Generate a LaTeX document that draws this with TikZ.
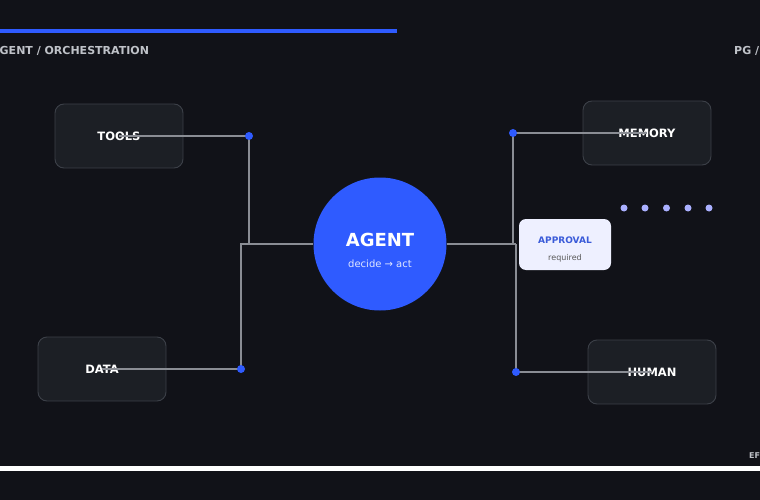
\documentclass[tikz,border=0pt]{standalone}
\usepackage{fontspec}
\setmainfont{DejaVu Sans}
\definecolor{bg}{HTML}{111218}
\definecolor{boxfill}{HTML}{1C1F25}
\definecolor{boxline}{HTML}{3C4048}
\definecolor{wire}{HTML}{8A8D94}
\definecolor{accent}{HTML}{2F5BFF}
\definecolor{headtxt}{HTML}{BFC2C8}
\definecolor{apfill}{HTML}{EEF0FF}
\definecolor{aptxt}{HTML}{3A5BD9}
\definecolor{dotc}{HTML}{AAB0FF}
\tikzset{
  card/.style={draw=boxline, line width=0.9pt, fill=boxfill, rounded corners=9pt, minimum width=128pt, minimum height=64pt, inner sep=0pt},
  cardtxt/.style={text=white, font=\bfseries\fontsize{11.5}{14}\selectfont, inner sep=0pt},
  wireline/.style={draw=wire, line width=1.4pt},
  jdot/.style={circle, fill=accent, minimum size=8pt, inner sep=0pt},
  pdot/.style={circle, fill=dotc, minimum size=7pt, inner sep=0pt},
  headline/.style={text=headtxt, font=\bfseries\fontsize{11}{13}\selectfont, inner sep=0pt}
}
\begin{document}
\begin{tikzpicture}[x=1pt,y=-1pt]
\fill[bg] (0,0) rectangle (760,500);
\useasboundingbox (0,0) rectangle (760,500);
% top bar and bottom bar
\fill[accent] (0,29) rectangle (397,33.5);
\fill[white] (0,466) rectangle (760,470.5);
% header texts
\node[headline, anchor=west] (head) at (-9,50.5) {AGENT / ORCHESTRATION};
\node[headline, anchor=west] (pg) at (734,50.5) {PG /};
\node[headline, anchor=west, font=\bfseries\fontsize{8}{10}\selectfont] (ef) at (749,456) {EF};
% cards
\node[card] (tools) at (119,136) {};
\node[card] (data) at (102,369) {};
\node[card] (memory) at (647,133) {};
\node[card] (human) at (652,372) {};
\node[cardtxt] (toolsT) at (tools.center) {TOOLS};
\node[cardtxt] (dataT) at (data.center) {DATA};
\node[cardtxt] (memoryT) at (memory.center) {MEMORY};
\node[cardtxt] (humanT) at (human.center) {HUMAN};
% junction dots (coordinates)
\coordinate (jt) at (249,136);
\coordinate (jd) at (241,369);
\coordinate (jm) at (513,133);
\coordinate (jh) at (516,372);
\coordinate (jl) at (241,244);
\coordinate (jlt) at (249,244);
\coordinate (jr) at (513,244);
\coordinate (jrh) at (516,244);
% agent
\node[circle, fill=accent, minimum size=133pt, inner sep=0pt] (agent) at (380,244) {};
\node[text=white, font=\bfseries\fontsize{18}{20}\selectfont, inner sep=0pt] (agentT) at (380,240) {AGENT};
\node[text=white!85!accent, font=\fontsize{10}{12}\selectfont, inner sep=0pt] (agentS) at (380,264) {decide → act};
% wires
\draw[wireline] (toolsT.center) -- (jt) -- (jlt);
\draw[wireline] (dataT.center) -- (jd) -- (jl) -- (agent.west);
\draw[wireline] (memoryT.center) -- (jm) -- (jr);
\draw[wireline] (humanT.center) -- (jh) -- (jrh);
\draw[wireline] (agent.east) -- (jrh);
% dots
\node[jdot] (dt) at (jt) {};
\node[jdot] (dd) at (jd) {};
\node[jdot] (dm) at (jm) {};
\node[jdot] (dh) at (jh) {};
% approval
\node[fill=apfill, rounded corners=7pt, minimum width=92pt, minimum height=51pt, inner sep=0pt] (appr) at (565,244.5) {};
\node[text=aptxt, font=\bfseries\fontsize{9}{11}\selectfont, inner sep=0pt] (apprT) at (565,240) {APPROVAL};
\node[text=black!65, font=\fontsize{8}{10}\selectfont, inner sep=0pt] (apprS) at (565,258) {required};
% progress dots
\node[pdot] (p1) at (624,208) {};
\node[pdot] (p2) at (645,208) {};
\node[pdot] (p3) at (666.5,208) {};
\node[pdot] (p4) at (688,208) {};
\node[pdot] (p5) at (709,208) {};
\end{tikzpicture}
\end{document}
